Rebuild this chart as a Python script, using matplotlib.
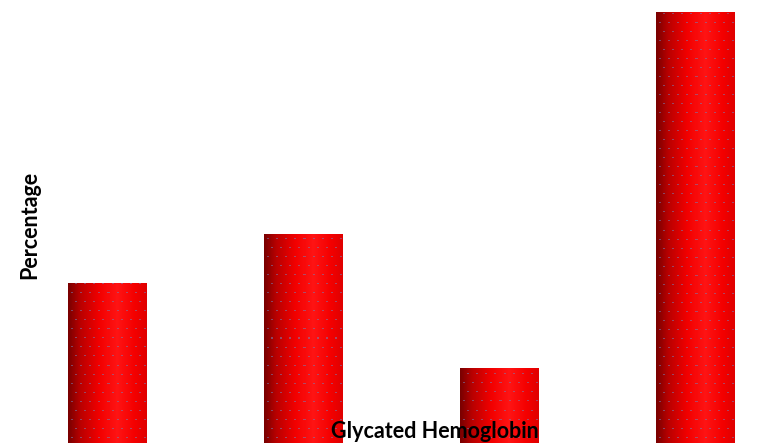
import numpy as np
import matplotlib
matplotlib.use("Agg")
import matplotlib.pyplot as plt
from matplotlib.colors import LinearSegmentedColormap

categories = ["Group 1", "Group 2", "Group 3", "Group 4"]
values = [18.3, 23.9, 8.6, 49.3]
x_label = "Glycated Hemoglobin"
y_label = "Percentage"

W, H = 781, 443
fig = plt.figure(figsize=(W / 100, H / 100), dpi=100)
ax = fig.add_axes([0, 0, 1, 1])
ax.set_xlim(-0.546, 3.439)
ax.set_ylim(0, 50.63)
ax.axis("off")

bar_w = 0.398
xs = np.arange(len(categories))
bars = ax.bar(xs, values, width=bar_w, color="none", edgecolor="none")

# cylinder-like horizontal gradient with dotted texture
stops = [(0.0, "#7a0000"), (0.15, "#b80000"), (0.4, "#f20000"),
         (0.62, "#ff1414"), (0.85, "#f40000"), (1.0, "#e00000")]
cmap = LinearSegmentedColormap.from_list("cyl", stops)
nx = 78
grad = cmap(np.linspace(0, 1, nx))[:, :3]
dot = np.array([0.45, 0.5, 0.72])
for b, v in zip(bars, values):
    h_px = int(round(v / 50.63 * H))
    img = np.tile(grad[None, :, :], (h_px, 1, 1)).copy()
    for k, r in enumerate(range(5, h_px, 9)):
        off = 0 if k % 2 == 0 else 4
        for c in range(3 + off, nx - 2, 9):
            rr = h_px - 1 - r
            img[rr, c:c + 2] = img[rr, c:c + 2] * 0.45 + dot * 0.55
    img[0, :] = img[0, :] * 0.5 + np.array([1, 0.7, 0.7]) * 0.5
    x0 = b.get_x()
    im = ax.imshow(img, extent=(x0, x0 + bar_w, 0, v), aspect="auto",
                   interpolation="nearest", zorder=2)
    im.set_clip_path(b)

ax.set_xlim(-0.546, 3.439)
ax.set_ylim(0, 50.63)

fig.text(30 / W, 1 - 225 / H, y_label, rotation=90, ha="center", va="center",
         fontsize=15.5, fontweight="bold", family="Lato", color="black")
fig.text(435 / W, 1 - 432 / H, x_label, ha="center", va="center",
         fontsize=15.5, fontweight="bold", family="Lato", color="black", zorder=5)

fig.savefig("out.png", dpi=100)
